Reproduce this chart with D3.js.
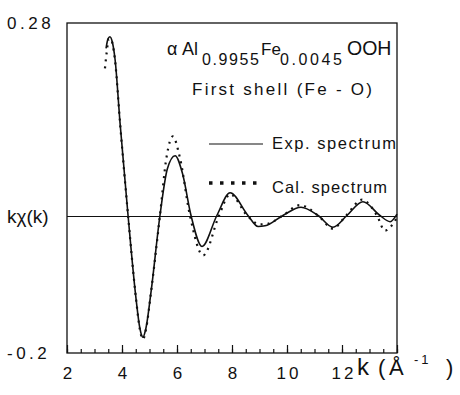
<!DOCTYPE html>
<html><head><meta charset="utf-8">
<script src="https://cdn.jsdelivr.net/npm/d3@7"></script>
<style>
body{margin:0;background:#fff;}
text{font-family:"Liberation Sans",Arial,Helvetica,sans-serif;fill:#111;}
</style>
</head><body>
<svg id="c" width="460" height="395"></svg>
<script>
// ---- data ----
const expK = [3.42,3.49,3.56,3.65,3.745,3.93,4.22,4.51,4.65,4.76,4.87,5.05,5.38,5.65,5.93,6.2,6.51,6.91,7.45,7.93,8.58,8.95,9.2,9.85,10.51,11.13,11.67,12.18,12.76,13.38,13.75,14.0];
const expV = [0.243,0.257,0.260,0.252,0.228,0.134,0.0,-0.121,-0.164,-0.177,-0.164,-0.113,0.0,0.068,0.087,0.061,0.0,-0.045,0.0,0.033,0.0,-0.016,-0.015,0.0,0.012,0.0,-0.017,0.0,0.020,0.0,-0.009,0.002];
const calK = [3.38,3.44,3.52,3.58,3.745,3.93,4.22,4.51,4.65,4.76,4.87,5.05,5.38,5.62,5.85,6.1,6.47,6.95,7.53,7.93,8.55,9.0,9.3,9.85,10.47,11.13,11.67,12.15,12.73,13.27,13.56,14.0];
const calV = [0.214,0.236,0.257,0.257,0.226,0.134,0.0,-0.121,-0.166,-0.180,-0.166,-0.113,0.0,0.085,0.115,0.085,0.0,-0.058,0.0,0.031,0.0,-0.013,-0.012,0.0,0.015,0.0,-0.019,0.0,0.023,0.0,-0.022,-0.003];
const xMajor = [2,4,6,8,10,12,14];
const xMinor = d3.range(2,14.01,0.5);
const xTickLabels = ["2","4","6","8","10","12",""];
const yTickLabels = ["0.28","-0.2"];
const yTickValues = [0.28,-0.2];
const legendLabels = ["Exp. spectrum","Cal. spectrum"];

// ---- layout ----
const L=67, R=397, T=23, B=353;
const svg = d3.select("#c");
const x = d3.scaleLinear().domain([2,14]).range([L,R]);
const y = d3.scaleLinear().domain([-0.2,0.28]).range([B,T]);

// frame
svg.append("rect").attr("x",L).attr("y",T).attr("width",R-L).attr("height",B-T)
  .attr("fill","none").attr("stroke","#111").attr("stroke-width",1.3);

// zero line
svg.append("line").attr("x1",L).attr("x2",R).attr("y1",y(0)+1).attr("y2",y(0)+1)
  .attr("stroke","#111").attr("stroke-width",1.1);

// bottom axis: minor and major ticks pointing inward
const gMinor = svg.append("g").attr("transform",`translate(0,${B})`)
  .call(d3.axisBottom(x).tickValues(xMinor).tickSize(-4).tickFormat(""));
gMinor.select(".domain").remove();
const gMajor = svg.append("g").attr("transform",`translate(0,${B})`)
  .call(d3.axisBottom(x).tickValues(xMajor).tickSize(-8).tickPadding(14)
        .tickFormat((d,i)=>xTickLabels[i]));
gMajor.select(".domain").remove();
svg.selectAll(".tick line").attr("stroke","#111").attr("stroke-width",1.2);
gMajor.selectAll("text").attr("font-size",17).attr("letter-spacing",3)
  .attr("dx",1.5).attr("fill","#111").style("font-family","'Liberation Sans',Arial,sans-serif");

// y labels
svg.selectAll(".ylab").data(yTickLabels).enter().append("text")
  .attr("x",7).attr("y",(d,i)=>y(yTickValues[i])+6)
  .attr("font-size",17).attr("letter-spacing",3.5).text(d=>d);

// y title
svg.append("text").attr("x",7).attr("y",223).attr("font-size",19).text("kχ(k)");

// x title
const xt = svg.append("text").attr("y",375);
xt.append("tspan").attr("x",357).attr("font-size",24).text("k");
xt.append("tspan").attr("x",378).attr("font-size",22).text("(");
xt.append("tspan").attr("x",389).attr("font-size",22).text("Å");
xt.append("tspan").attr("x",414).attr("dy",-11).attr("font-size",13).attr("letter-spacing",3).text("-1");
xt.append("tspan").attr("x",446).attr("dy",11).attr("font-size",22).text(")");

// curves
const line = d3.line().curve(d3.curveMonotoneX);
svg.append("path")
  .attr("d", line(expK.map((k,i)=>[x(k), y(expV[i])])))
  .attr("fill","none").attr("stroke","#111").attr("stroke-width",1.6);
svg.append("path")
  .attr("d", line(calK.map((k,i)=>[x(k), y(calV[i])])))
  .attr("fill","none").attr("stroke","#111").attr("stroke-width",2.2)
  .attr("stroke-dasharray","2,5");

// title (separate pieces)
const tp = [
  {t:"α", x:167, y:55, s:18, w:0},
  {t:"Al", x:182, y:55, s:18, w:0},
  {t:"0.9955", x:202, y:65, s:16, w:57},
  {t:"Fe", x:261, y:55, s:17, w:0},
  {t:"0.0045", x:280, y:65, s:16, w:62},
  {t:"OOH", x:347, y:55, s:19.5, w:0}
];
svg.selectAll(".tp").data(tp).enter().append("text")
  .attr("x",d=>d.x).attr("y",d=>d.y).attr("font-size",d=>d.s)
  .each(function(d){ if(d.w) d3.select(this).attr("textLength",d.w).attr("lengthAdjust","spacing"); })
  .text(d=>d.t);

svg.append("text").attr("x",192).attr("y",95).attr("font-size",17)
  .attr("textLength",180).attr("lengthAdjust","spacing").text("First shell (Fe - O)");

// legend
svg.append("line").attr("x1",209).attr("x2",263).attr("y1",144).attr("y2",144)
  .attr("stroke","#111").attr("stroke-width",1.2);
svg.append("line").attr("x1",209).attr("x2",259).attr("y1",183).attr("y2",183)
  .attr("stroke","#111").attr("stroke-width",3.5).attr("stroke-dasharray","3.5,7.5");
svg.append("text").attr("x",272).attr("y",149).attr("font-size",16.5)
  .attr("textLength",124).attr("lengthAdjust","spacing").text(legendLabels[0]);
svg.append("text").attr("x",272).attr("y",193).attr("font-size",16.5)
  .attr("textLength",115).attr("lengthAdjust","spacing").text(legendLabels[1]);
</script>
</body></html>
